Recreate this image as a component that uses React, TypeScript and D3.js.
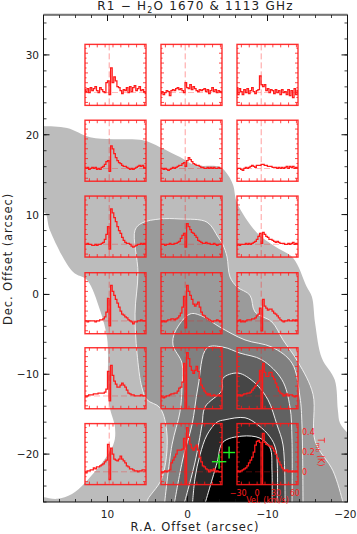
import React from 'react';
import * as d3 from 'd3';

type Pt = [number, number];

// filled intensity levels, outermost first, [R.A., Dec.] in arcsec
const level1: Pt[] = [[18.5, 21.15], [18, 21.1], [15.06, 20.84], [12.2, 19.7], [9.3, 19.45], [5.56, 19.3], [3.44, 18.45], [0.94, 17.2], [-0.94, 16.2], [-4.06, 15.95], [-5.06, 14.95], [-5.7, 13.7], [-6.2, 11.45], [-8.7, 7.7], [-10.9, 6.05], [-13.2, 4.55], [-14.9, 0.95], [-15.55, -0.3], [-15.95, -3.6], [-16.8, -8], [-18.4, -10.7], [-18.8, -14.5], [-19.06, -16.1], [-20.06, -17.4], [-20.5, -17.8], [-20.5, -26.5], [18.5, -26.5], [18.5, -25.4], [18, -25.4], [16.3, -25.6], [14.44, -25], [12.8, -23.6], [9.3, -18.9], [9.06, -16.7], [9.7, -14.2], [9.94, -10.5], [9.94, -7.6], [10.06, -5.35], [10.94, -1.95], [12.56, 1.8], [14.3, 2.8], [17.2, 8.05], [17.8, 10.2], [18.5, 10.2]];
const level2: Pt[] = [[4.6, -26.5], [5.06, -26], [3.19, -23], [2.56, -17.6], [3.44, -14.2], [5.06, -13.2], [5.69, -11.7], [6.31, -7.35], [6.56, -2.35], [6.19, 2.7], [6.56, 8.05], [5.69, 8.95], [3.44, 9.45], [0.94, 9.45], [-2.44, 9.05], [-3.81, 7.2], [-4.44, 6.2], [-4.94, 4.7], [-5.31, 2.2], [-6.19, 0.95], [-7.81, -0.1], [-8.44, -2.2], [-10.56, -3.45], [-11.94, -5.7], [-13.81, -8.45], [-15.69, -12.5], [-15.94, -18.35], [-18.19, -22.1], [-19.44, -26], [-19.6, -26.5]];
const level3: Pt[] = [[2.9, -26.5], [1.94, -18.85], [0.94, -14.7], [0.69, -11.7], [0.69, -8.6], [1.81, -6.35], [1.56, -4.7], [-0.31, -2.45], [-1.81, -2.7], [-4.06, -4.1], [-7.19, -5.7], [-10.56, -6.6], [-13.06, -8.6], [-14.06, -12.85], [-14.31, -16.35], [-14.44, -26.5]];
const level4: Pt[] = [[1.7, -26.5], [0.56, -20.5], [-0.56, -16.35], [-1.31, -11.6], [-2.44, -6.7], [-4.44, -6.6], [-6.56, -7.35], [-9.31, -8.2], [-11.81, -10.7], [-12.81, -14.1], [-13.06, -18.2], [-13.06, -26.5]];
const level5: Pt[] = [[0.5, -26.5], [-0.94, -21], [-1.81, -16.35], [-2.19, -14.1], [-4.31, -12], [-4.44, -10.5], [-6.31, -9.85], [-8.44, -11.1], [-10.06, -13.2], [-11.19, -16.35], [-11.94, -18.85], [-12.19, -26.5]];
const level6: Pt[] = [[-0.6, -26.5], [-0.94, -23], [-1.56, -20.1], [-2.44, -17.6], [-3.69, -16], [-4.69, -15.7], [-7.19, -15.45], [-8.81, -16.35], [-10.31, -17.85], [-11.06, -19.5], [-11.19, -26.5]];
const level7: Pt[] = [[-2.1, -26.5], [-3.69, -21.1], [-4.44, -18.5], [-6.81, -17.75], [-9.06, -18], [-10.31, -19.2], [-10.56, -22], [-10.56, -26.5]];
const levels = [level1, level2, level3, level4, level5, level6, level7];
const levelFills = ['#bcbcbc', '#9b9b9b', '#808080', '#626262', '#464646', '#2a2a2a', '#000000'];

// where the spectra sit on the map
const panelRA = [9, -0.5, -10];
const panelDec = [27.5, 18, 8.5, -1.1, -10.5, -20];
const velocity = [-32.5, -30, -27.5, -25, -22.5, -20, -17.5, -15, -12.5, -10, -7.5, -5, -2.5, 0, 2.5, 5, 7.5, 10, 12.5, 15, 17.5, 20, 22.5, 25, 27.5, 30, 32.5, 35, 37.5, 40, 42.5, 45, 47.5, 50, 52.5, 55, 57.5, 60, 62.5, 65];

const r1c1 = [.03, .01, .04, 0, .05, .02, .04, .06, .02, 0, .05, .03, .01, 0, .10, .12, -.02, .25, .10, .16, .12, .06, .05, .02, -.01, .03, .02, .05, 0, .06, .01, .05, .07, .02, .04, .06, .02, .03, .01, -.01];
const r1c2 = [-.01, .01, -.02, 0, .02, .01, -.03, .02, .03, .02, .04, .05, .03, .04, .02, 0, .10, .05, .04, .08, .03, .06, .04, .02, .01, .03, .02, .03, .04, .01, .03, -.01, .02, .05, .01, .03, 0, .02, .01, 0];
const r1c3 = [.05, -.02, .04, .01, -.02, .03, 0, .04, -.01, .02, .05, .01, -.01, .02, .03, .17, .08, .06, .08, .02, .04, 0, .03, .02, -.01, .03, 0, .02, -.02, .03, 0, .01, -.02, .03, -.03, .02, -.05, .04, -.02, .02];
const r2c1 = [.01, 0, .01, -.01, 0, .01, 0, .01, -.01, 0, -.01, .01, .02, .04, .07, .08, -.03, .23, .20, .15, .11, .08, .06, .05, .03, .02, .02, .01, 0, -.01, 0, -.01, 0, .01, .02, .03, .02, .03, .01, 0];
const r2c2 = [0, 0, -.01, 0, -.01, -.02, -.01, 0, .01, 0, .01, .02, .03, .03, .05, .06, .02, .08, .11, .09, .07, .05, .04, .03, .03, .02, .01, .01, 0, 0, .01, 0, .01, 0, .01, 0, 0, .01, 0, 0];
const r2c3 = [-.01, 0, 0, -.01, -.02, 0, .01, 0, .01, .02, .03, .02, .01, .03, .03, .03, .04, .04, .03, .03, .02, .02, .02, .01, .01, .01, 0, .01, 0, .01, 0, .01, .02, 0, .02, .01, .02, 0, .01, 0];
const r3c1 = [0, 0, .01, 0, 0, -.01, -.01, 0, -.01, 0, 0, .01, .02, .05, .10, .18, -.05, .36, .32, .27, .23, .18, .14, .11, .07, .04, .02, .01, .01, 0, -.02, -.03, -.02, -.01, 0, 0, .01, 0, .01, 0];
const r3c2 = [0, 0, 0, -.01, 0, 0, .01, 0, 0, .01, .01, .02, .03, .06, .09, .11, -.03, .21, .18, .15, .12, .11, .09, .07, .04, .03, .02, .01, .01, .02, .01, .01, 0, 0, .01, 0, -.01, 0, 0, 0];
const r3c3 = [-.01, 0, -.01, 0, 0, 0, .01, 0, .01, 0, .01, .02, .03, .05, .08, .11, .01, .12, .10, .08, .07, .05, .05, .04, .03, .02, .03, .02, .01, .01, .01, 0, 0, .01, 0, .01, .02, 0, .01, 0];
const r4c1 = [0, 0, -.01, 0, 0, 0, 0, -.01, 0, 0, .01, .01, .02, .04, .09, .23, -.05, .36, .30, .26, .22, .18, .14, .10, .07, .06, .04, .03, .01, 0, -.01, -.03, -.01, -.01, 0, 0, .01, 0, 0, 0];
const r4c2 = [0, -.01, 0, -.01, 0, .01, .01, .02, .02, .01, .02, .03, .05, .08, .14, .25, -.07, .36, .30, .26, .22, .17, .15, .17, .19, .14, .09, .06, .05, .03, .02, .01, 0, -.01, 0, 0, .01, 0, -.01, 0];
const r4c3 = [-.01, 0, .01, -.01, 0, -.01, 0, .01, .01, .01, .02, .02, .03, .05, .07, .13, -.1, .22, .15, .13, .11, .12, .12, .10, .08, .07, .05, .03, .01, 0, -.01, 0, 0, .01, 0, 0, .01, 0, .01, 0];
const r5c1 = [0, -.01, 0, .01, .01, .01, .02, .02, .02, .03, .03, .03, .03, .04, .07, .25, -.05, .31, .21, .15, .12, .09, .09, .11, .13, .11, .09, .06, .03, .02, .01, .01, 0, 0, 0, 0, .01, 0, 0, 0];
const r5c2 = [0, -.01, -.02, -.01, 0, 0, .01, .02, .02, .03, .03, .05, .08, .09, .14, .33, -.13, .44, .38, .30, .26, .23, .26, .30, .25, .18, .11, .08, .05, .03, .01, .02, 0, 0, .01, 0, 0, .01, 0, 0];
const r5c3 = [0, .01, .01, 0, .01, .02, .02, .03, .03, .04, .06, .08, .10, .13, .15, .26, -.13, .33, .24, .20, .20, .24, .24, .20, .17, .13, .09, .05, .03, .02, 0, .01, .02, 0, .01, .01, 0, -.01, 0, 0];
const r6c1 = [0, -.01, .01, .01, .02, .02, .04, .03, .05, .05, .06, .07, .08, .10, .12, .28, -.08, .24, .18, .13, .12, .11, .13, .16, .13, .11, .09, .06, .05, .03, .03, .02, .01, .01, 0, .01, .01, .02, .02, .01];
const r6c2 = [0, -.01, 0, .01, 0, .01, .02, .09, .12, .15, .18, .22, .22, .22, .23, .34, -.13, .45, .35, .28, .24, .22, .25, .27, .22, .15, .10, .06, .05, .03, .02, 0, .02, .01, .03, 0, .01, 0, 0, 0];
const r6c3 = [0, .01, 0, .01, .02, .03, .04, .06, .09, .12, .15, .2, .27, .31, .32, .3, -.13, .39, .3, .28, .27, .26, .26, .24, .21, .18, .14, .1, .07, .04, .02, .01, .02, 0, .01, 0, .01, 0, .01, 0];
const spectra = [
    [r1c1, r1c2, r1c3],
    [r2c1, r2c2, r2c3],
    [r3c1, r3c2, r3c3],
    [r4c1, r4c2, r4c3],
    [r5c1, r5c2, r5c3],
    [r6c1, r6c2, r6c3],
];

const velTicks = [-25, -12.5, 0, 12.5, 25, 37.5, 50, 62.5];
const velLabels = [-30, 0, 30, 60];
const tempTicks = [-0.1, -0.05, 0, 0.05, 0.1, 0.15, 0.2, 0.25, 0.3, 0.35, 0.4, 0.45];
const tempLabels = [0, 0.2, 0.4];
const sourceVel = 6.5;

const crossRA = [-5.2, -3.95];
const crossDec = [-19.8, -20.95];
const crossSize = [0.75, 0.9];

const raMajor = [10, 0, -10, -20];
const decMajor = [30, 20, 10, 0, -10, -20];

const fmt = (v: number) => (v < 0 ? '\u2212' + Math.abs(v) : String(v));
const FONT = '"DejaVu Sans", sans-serif';
const RED = '#ff1a1a';

const x = d3.scaleLinear().domain([18, -20]).range([43.5, 347.5]);
const y = d3.scaleLinear().domain([35, -26]).range([15, 502]);

const contourPath = d3.line<Pt>().x(d => x(d[0])).y(d => y(d[1])).curve(d3.curveCatmullRom.alpha(0.5));

const Spectrum = ({ ra, dec, values, labelled, id }: { ra: number; dec: number; values: number[]; labelled: boolean; id: string }) => {
    const size = 61;
    const x0 = x(ra) - size / 2;
    const y0 = y(dec) - size / 2;
    const vx = d3.scaleLinear().domain([-32, 65]).range([x0, x0 + size]);
    const ty = d3.scaleLinear().domain([-0.13, 0.49]).range([y0 + size, y0]);
    const path = d3.line<number>().x((_, i) => vx(velocity[i])).y(d => ty(d)).curve(d3.curveStep);
    return (
        <g>
            <clipPath id={id}><rect x={x0} y={y0} width={size} height={size} /></clipPath>
            <line x1={vx(sourceVel)} x2={vx(sourceVel)} y1={y0} y2={y0 + size} stroke={RED} strokeWidth={0.7} strokeDasharray="6,3" opacity={0.6} />
            <line x1={x0} x2={x0 + size} y1={ty(0)} y2={ty(0)} stroke={RED} strokeWidth={0.7} strokeDasharray="6,3" opacity={0.45} />
            <path d={path(values) || ''} fill="none" stroke={RED} strokeWidth={1.25} clipPath={`url(#${id})`} />
            <rect x={x0} y={y0} width={size} height={size} fill="none" stroke={RED} strokeWidth={1.4} opacity={0.9} />
            {velTicks.map(t => (
                <g key={t} stroke={RED} strokeWidth={0.8}>
                    <line x1={vx(t)} x2={vx(t)} y1={y0} y2={y0 + 3} />
                    <line x1={vx(t)} x2={vx(t)} y1={y0 + size} y2={y0 + size - 3} />
                </g>
            ))}
            {tempTicks.map((t, i) => {
                const len = i % 2 === 0 ? 3 : 1.6;
                return (
                    <g key={t} stroke={RED} strokeWidth={0.8}>
                        <line x1={x0} x2={x0 + len} y1={ty(t)} y2={ty(t)} />
                        <line x1={x0 + size} x2={x0 + size - len} y1={ty(t)} y2={ty(t)} />
                    </g>
                );
            })}
            {labelled && (
                <g fill={RED} fontFamily={FONT} fontSize={8}>
                    {velLabels.map(v => (
                        <text key={v} x={vx(v)} y={y0 + size + 11} textAnchor="middle">{fmt(v)}</text>
                    ))}
                    <text x={x0 + size / 2} y={y0 + size + 18.5} textAnchor="middle">Vel. (km/s)</text>
                    {tempLabels.map(v => (
                        <text key={v} x={x0 + size + 4} y={ty(v) + 3}>{v}</text>
                    ))}
                    <text transform={`translate(${x0 + size + 20},${ty(0.2)}) rotate(90)`} textAnchor="middle" fontSize={8}>
                        T<tspan fontSize={6} dy={2}>mb</tspan><tspan dy={-2}> (K)</tspan>
                    </text>
                </g>
            )}
        </g>
    );
};

export default function App() {
    const [left, right] = x.range();
    const [top, bottom] = y.range();
    const raMinor = d3.range(-20, 19, 2);
    const decMinor = d3.range(-26, 36, 2);
    return (
        <svg width={357} height={534} style={{ position: 'absolute', left: 0, top: 0 }}>
            <clipPath id="frame"><rect x={left} y={top} width={right - left} height={bottom - top} /></clipPath>
            <g clipPath="url(#frame)">
                {levels.map((pts, i) => (
                    <path
                        key={i}
                        d={(contourPath(pts) || '') + 'Z'}
                        fill={levelFills[i]}
                        stroke={i === 0 ? 'none' : '#eeeeee'}
                        strokeWidth={1}
                    />
                ))}
            </g>
            <line x1={left} x2={right} y1={top - 1} y2={top - 1} stroke="#bcbcbc" strokeWidth={1.2} />

            <rect x={left} y={top} width={right - left} height={bottom - top} fill="none" stroke="#111" strokeWidth={1} />
            {raMinor.map(t => (
                <g key={t} stroke="#111" strokeWidth={0.8}>
                    <line x1={x(t)} x2={x(t)} y1={top} y2={top + 3} />
                    <line x1={x(t)} x2={x(t)} y1={bottom} y2={bottom - 3} />
                </g>
            ))}
            {decMinor.map(t => (
                <g key={t} stroke="#111" strokeWidth={0.8}>
                    <line x1={left} x2={left + 3} y1={y(t)} y2={y(t)} />
                    <line x1={right} x2={right - 3} y1={y(t)} y2={y(t)} />
                </g>
            ))}
            {raMajor.map(t => (
                <g key={t} stroke="#111" strokeWidth={1}>
                    <line x1={x(t)} x2={x(t)} y1={top} y2={top + 6} />
                    <line x1={x(t)} x2={x(t)} y1={bottom} y2={bottom - 6} />
                </g>
            ))}
            {decMajor.map(t => (
                <g key={t} stroke="#111" strokeWidth={1}>
                    <line x1={left} x2={left + 6} y1={y(t)} y2={y(t)} />
                    <line x1={right} x2={right - 6} y1={y(t)} y2={y(t)} />
                </g>
            ))}

            {panelDec.map((dec, r) => panelRA.map((ra, c) => (
                <Spectrum key={`${r}-${c}`} id={`sp${r}${c}`} ra={ra} dec={dec} values={spectra[r][c]} labelled={r === 5 && c === 2} />
            )))}

            {crossRA.map((ra, i) => (
                <g key={i} stroke="#22ee22" strokeWidth={1.4}>
                    <line x1={x(ra - crossSize[i])} x2={x(ra + crossSize[i])} y1={y(crossDec[i])} y2={y(crossDec[i])} />
                    <line x1={x(ra)} x2={x(ra)} y1={y(crossDec[i] - crossSize[i])} y2={y(crossDec[i] + crossSize[i])} />
                </g>
            ))}

            <g fontFamily={FONT} fontSize={10.5} fill="#222">
                {raMajor.map(t => (
                    <text key={t} x={t === -20 ? 356.5 : x(t)} y={518} textAnchor={t === -20 ? 'end' : 'middle'}>{fmt(t)}</text>
                ))}
                {decMajor.map(t => (
                    <text key={t} x={39} y={y(t) + 4} textAnchor="end">{fmt(t)}</text>
                ))}
                <text x={195.5} y={9.5} textAnchor="middle" fontSize={12} letterSpacing={1.2} xmlSpace="preserve">
                    R1 {'\u2212'} H<tspan fontSize={8} dy={3}>2</tspan><tspan dy={-3}>O 1670 &amp; 1113 GHz</tspan>
                </text>
                <text x={195} y={530.5} textAnchor="middle" fontSize={11.5} letterSpacing={0.9}>R.A. Offset (arcsec)</text>
                <text transform={`translate(11.5,259) rotate(-90)`} textAnchor="middle" fontSize={11.5} letterSpacing={0.9}>Dec. Offset (arcsec)</text>
            </g>
        </svg>
    );
}
